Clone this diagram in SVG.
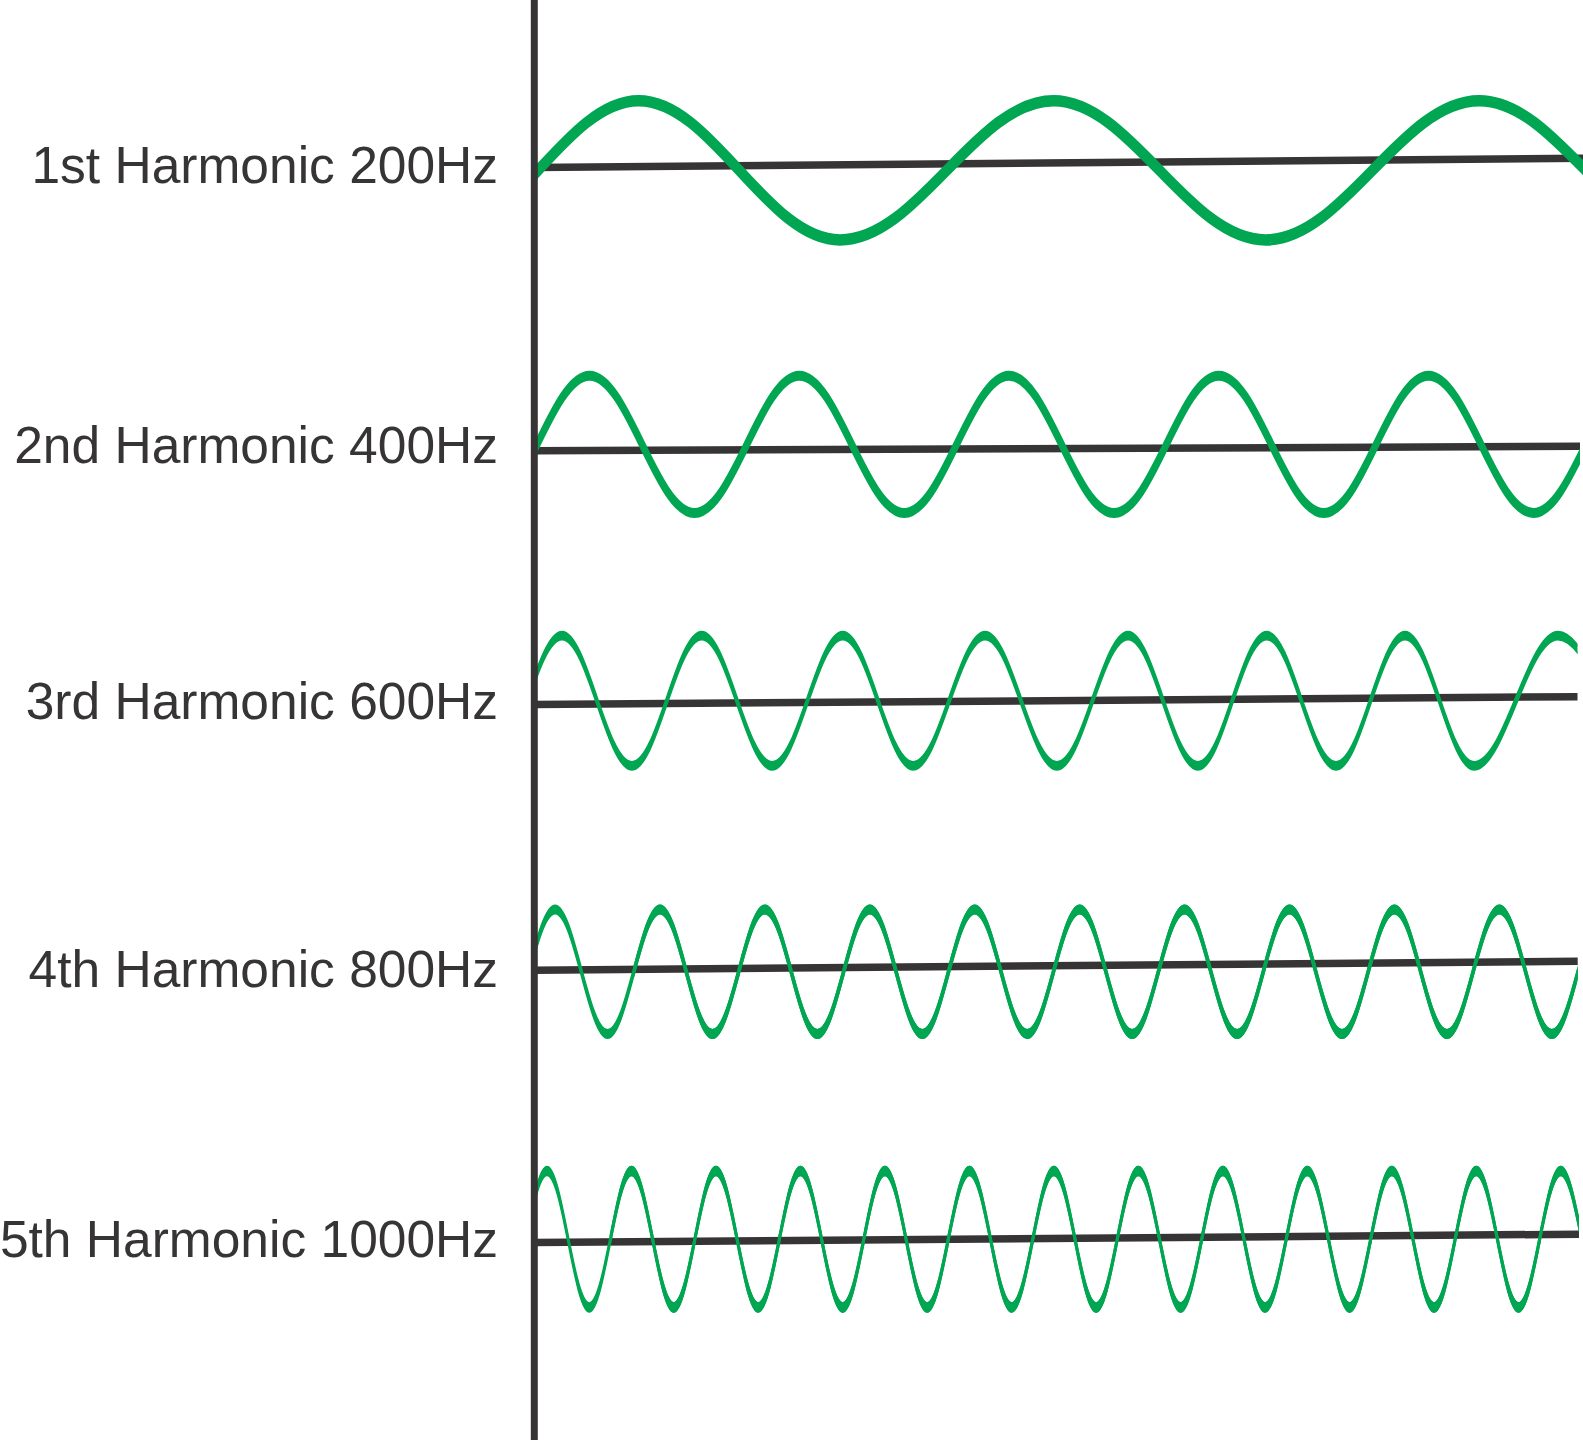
<svg xmlns="http://www.w3.org/2000/svg" xmlns:xlink="http://www.w3.org/1999/xlink" width="1583" height="1440" viewBox="0 0 1583 1440">
<style>
.lbl{font-family:"Liberation Sans",Arial,Helvetica,sans-serif;font-size:51.5px;fill:#363435;text-anchor:end}
.base{stroke:#363435;stroke-width:7.5;stroke-linecap:butt;fill:none}
.ax{stroke:#363435;stroke-width:7;fill:none}
.band{fill:#00A651;stroke:#00A651;stroke-linejoin:round}
</style>
<defs>
<clipPath id="c1"><rect x="536" y="0" width="1047" height="1440"/></clipPath>
<clipPath id="c2"><rect x="536" y="0" width="1044" height="1440"/></clipPath>
<clipPath id="c3"><rect x="536" y="0" width="1041.5" height="1440"/></clipPath>
<clipPath id="c4"><rect x="536" y="0" width="1041.7" height="1440"/></clipPath>
<clipPath id="c5"><rect x="536" y="0" width="1043" height="1440"/></clipPath>
<path id="t4" class="band" style="stroke-width:1.4" d="M0,0
c8.55,-31.94 16.74,-62.35 26.23,-62.35 c9.49,0 17.68,30.41 26.23,62.35 c8.55,31.94 16.74,62.35 26.23,62.35 c9.49,0 17.68,-30.41 26.23,-62.35
c8.55,-31.94 16.74,-62.35 26.23,-62.35 c9.49,0 17.68,30.41 26.23,62.35 c8.55,31.94 16.74,62.35 26.23,62.35 c9.49,0 17.68,-30.41 26.23,-62.35
l0,8.6
c-8.55,31.94 -16.74,62.35 -26.23,62.35 c-9.49,0 -17.68,-30.41 -26.23,-62.35 c-8.55,-31.94 -16.74,-62.35 -26.23,-62.35 c-9.49,0 -17.68,30.41 -26.23,62.35
c-8.55,31.94 -16.74,62.35 -26.23,62.35 c-9.49,0 -17.68,-30.41 -26.23,-62.35 c-8.55,-31.94 -16.74,-62.35 -26.23,-62.35 c-9.49,0 -17.68,30.41 -26.23,62.35 Z"/>
<path id="t5" class="band" style="stroke-width:1.3" d="M0,0
c6.89,-34.96 13.48,-68.25 21.12,-68.25 c7.64,0 14.23,33.29 21.12,68.25 c6.89,34.96 13.48,68.25 21.12,68.25 c7.64,0 14.23,-33.29 21.12,-68.25
c6.89,-34.96 13.48,-68.25 21.12,-68.25 c7.64,0 14.23,33.29 21.12,68.25 c6.89,34.96 13.48,68.25 21.12,68.25 c7.64,0 14.23,-33.29 21.12,-68.25
l0,9.2
c-6.89,34.96 -13.48,68.25 -21.12,68.25 c-7.64,0 -14.23,-33.29 -21.12,-68.25 c-6.89,-34.96 -13.48,-68.25 -21.12,-68.25 c-7.64,0 -14.23,33.29 -21.12,68.25
c-6.89,34.96 -13.48,68.25 -21.12,68.25 c-7.64,0 -14.23,-33.29 -21.12,-68.25 c-6.89,-34.96 -13.48,-68.25 -21.12,-68.25 c-7.64,0 -14.23,33.29 -21.12,68.25 Z"/>
</defs>
<rect width="1583" height="1440" fill="#fff"/>

<g id="h1">
<text class="lbl" x="498" y="182.5">1st Harmonic 200Hz</text>
<line class="base" x1="534" y1="167.5" x2="1583" y2="158.3"/>
<g clip-path="url(#c1)">
<path class="band" style="stroke-width:8.5" d="M437.6,238.45
c73.04,0 127.96,-139.2 201,-139.2
c73.19,0 128.21,139.2 201.4,139.2
c77.59,0 135.91,-139.2 213.5,-139.2
c77.11,0 135.09,139.2 212.2,139.2
c77.59,0 135.91,-139.2 213.5,-139.2
c77.4,0 135.6,139.2 213,139.2
l0,3
c-77.4,0 -135.6,-139.2 -213,-139.2
c-77.59,0 -135.91,139.2 -213.5,139.2
c-77.11,0 -135.09,-139.2 -212.2,-139.2
c-77.59,0 -135.91,139.2 -213.5,139.2
c-73.19,0 -128.21,-139.2 -201.4,-139.2
c-73.04,0 -127.96,139.2 -201,139.2 Z"/>
</g>
</g>

<g id="h2">
<text class="lbl" x="498" y="463">2nd Harmonic 400Hz</text>
<line class="base" x1="534" y1="450.8" x2="1580" y2="446.3"/>
<g clip-path="url(#c2)">
<path class="band" style="stroke-width:5" d="M484.73,510.5
c38.11,0 66.76,-137.3 104.87,-137.3 c38.11,0 66.76,137.3 104.87,137.3
c38.11,0 66.76,-137.3 104.87,-137.3 c38.11,0 66.76,137.3 104.87,137.3
c38.11,0 66.76,-137.3 104.87,-137.3 c38.11,0 66.76,137.3 104.87,137.3
c38.11,0 66.76,-137.3 104.87,-137.3 c38.11,0 66.76,137.3 104.87,137.3
c38.11,0 66.76,-137.3 104.87,-137.3 c38.11,0 66.76,137.3 104.87,137.3
c38.11,0 66.76,-137.3 104.87,-137.3
l0,5
c-38.11,0 -66.76,137.3 -104.87,137.3
c-38.11,0 -66.76,-137.3 -104.87,-137.3 c-38.11,0 -66.76,137.3 -104.87,137.3
c-38.11,0 -66.76,-137.3 -104.87,-137.3 c-38.11,0 -66.76,137.3 -104.87,137.3
c-38.11,0 -66.76,-137.3 -104.87,-137.3 c-38.11,0 -66.76,137.3 -104.87,137.3
c-38.11,0 -66.76,-137.3 -104.87,-137.3 c-38.11,0 -66.76,137.3 -104.87,137.3
c-38.11,0 -66.76,-137.3 -104.87,-137.3 c-38.11,0 -66.76,137.3 -104.87,137.3 Z"/>
</g>
</g>

<g id="h3">
<text class="lbl" x="498" y="719">3rd Harmonic 600Hz</text>
<line class="base" x1="534" y1="704.5" x2="1577.5" y2="696.7"/>
<g clip-path="url(#c3)">
<path class="band" style="stroke-width:1.5" d="M492,761.8
c25.44,0 44.56,-130.3 70,-130.3
c25.4,0 44.5,130.3 69.9,130.3
c25.37,0 44.43,-130.3 69.8,-130.3
c25.62,0 44.88,130.3 70.5,130.3
c25.62,0 44.88,-130.3 70.5,-130.3
c25.62,0 44.88,130.3 70.5,130.3
c26.13,0 45.77,-130.3 71.9,-130.3
c26.09,0 45.71,130.3 71.8,130.3
c25.87,0 45.33,-130.3 71.2,-130.3
c25.37,0 44.43,130.3 69.8,130.3
c25,0 43.8,-130.3 68.8,-130.3
c25.18,0 44.12,130.3 69.3,130.3
c25.07,0 43.93,-130.3 69,-130.3
c25.07,0 43.93,130.3 69,130.3
c30.53,0 53.47,-130.3 84,-130.3
c34.52,0 60.48,130.3 95,130.3
l0,8.2
c-34.52,0 -60.48,-130.3 -95,-130.3
c-30.53,0 -53.47,130.3 -84,130.3
c-25.07,0 -43.93,-130.3 -69,-130.3
c-25.07,0 -43.93,130.3 -69,130.3
c-25.18,0 -44.12,-130.3 -69.3,-130.3
c-25,0 -43.8,130.3 -68.8,130.3
c-25.37,0 -44.43,-130.3 -69.8,-130.3
c-25.87,0 -45.33,130.3 -71.2,130.3
c-26.09,0 -45.71,-130.3 -71.8,-130.3
c-26.13,0 -45.77,130.3 -71.9,130.3
c-25.62,0 -44.88,-130.3 -70.5,-130.3
c-25.62,0 -44.88,130.3 -70.5,130.3
c-25.62,0 -44.88,-130.3 -70.5,-130.3
c-25.37,0 -44.43,130.3 -69.8,130.3
c-25.4,0 -44.5,-130.3 -69.9,-130.3
c-25.44,0 -44.56,130.3 -70,130.3 Z"/>
</g>
</g>

<g id="h4">
<text class="lbl" x="498" y="986.5">4th Harmonic 800Hz</text>
<line class="base" x1="534" y1="970.2" x2="1577.7" y2="961.3"/>
<g clip-path="url(#c4)">
<use xlink:href="#t4" href="#t4" x="528.87" y="967.45"/>
<use xlink:href="#t4" href="#t4" x="633.79" y="967.45"/>
<use xlink:href="#t4" href="#t4" x="738.71" y="967.45"/>
<use xlink:href="#t4" href="#t4" x="843.63" y="967.45"/>
<use xlink:href="#t4" href="#t4" x="948.55" y="967.45"/>
<use xlink:href="#t4" href="#t4" x="1053.47" y="967.45"/>
<use xlink:href="#t4" href="#t4" x="1158.39" y="967.45"/>
<use xlink:href="#t4" href="#t4" x="1263.31" y="967.45"/>
<use xlink:href="#t4" href="#t4" x="1368.23" y="967.45"/>
<use xlink:href="#t4" href="#t4" x="1473.15" y="967.45"/>
</g>
</g>

<g id="h5">
<text class="lbl" x="498" y="1256.5">5th Harmonic 1000Hz</text>
<line class="base" x1="534" y1="1242.5" x2="1579" y2="1234.2"/>
<g clip-path="url(#c5)">
<use xlink:href="#t5" href="#t5" x="525.9" y="1234.55"/>
<use xlink:href="#t5" href="#t5" x="610.38" y="1234.55"/>
<use xlink:href="#t5" href="#t5" x="694.86" y="1234.55"/>
<use xlink:href="#t5" href="#t5" x="779.34" y="1234.55"/>
<use xlink:href="#t5" href="#t5" x="863.82" y="1234.55"/>
<use xlink:href="#t5" href="#t5" x="948.3" y="1234.55"/>
<use xlink:href="#t5" href="#t5" x="1032.78" y="1234.55"/>
<use xlink:href="#t5" href="#t5" x="1117.26" y="1234.55"/>
<use xlink:href="#t5" href="#t5" x="1201.74" y="1234.55"/>
<use xlink:href="#t5" href="#t5" x="1286.22" y="1234.55"/>
<use xlink:href="#t5" href="#t5" x="1370.7" y="1234.55"/>
<use xlink:href="#t5" href="#t5" x="1455.18" y="1234.55"/>
<use xlink:href="#t5" href="#t5" x="1539.66" y="1234.55"/>
</g>
</g>

<g id="axis">
<line class="ax" x1="534.3" y1="0" x2="534.3" y2="1440"/>
</g>
</svg>
